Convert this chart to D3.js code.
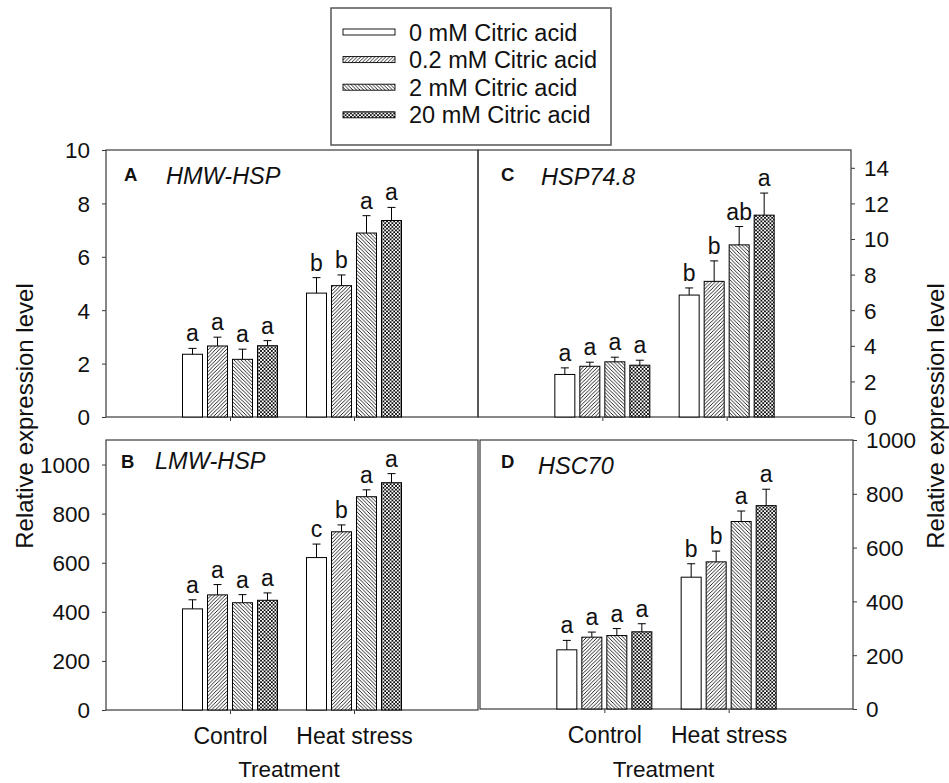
<!DOCTYPE html>
<html>
<head>
<meta charset="utf-8">
<script src="https://cdn.jsdelivr.net/npm/d3@7"></script>
<style>
  html, body { margin: 0; padding: 0; background: #fff; }
  svg { display: block; font-family: "Liberation Sans", Arial, sans-serif; }
</style>
</head>
<body>
<svg id="chart" width="949" height="783"></svg>
<script>
// ---------- data ----------
const categories = ["Control", "Heat stress"];
const seriesNames = ["0 mM Citric acid", "0.2 mM Citric acid", "2 mM Citric acid", "20 mM Citric acid"];

// Panel A: HMW-HSP
const meanA = [[2.35, 2.66, 2.16, 2.67], [4.64, 4.92, 6.89, 7.36]];
const errA  = [[0.22, 0.33, 0.38, 0.19], [0.58, 0.40, 0.65, 0.49]];
const letA  = [["a", "a", "a", "a"], ["b", "b", "a", "a"]];
const ticksA = [0, 2, 4, 6, 8, 10];

// Panel B: LMW-HSP
const meanB = [[412, 469, 437, 447], [621, 726, 869, 926]];
const errB  = [[37, 42, 33, 30], [55, 28, 28, 37]];
const letB  = [["a", "a", "a", "a"], ["c", "b", "a", "a"]];
const ticksB = [0, 200, 400, 600, 800, 1000];

// Panel C: HSP74.8
const meanC = [[2.39, 2.85, 3.10, 2.91], [6.85, 7.62, 9.67, 11.34]];
const errC  = [[0.37, 0.23, 0.26, 0.28], [0.40, 1.15, 1.03, 1.24]];
const letC  = [["a", "a", "a", "a"], ["b", "b", "ab", "a"]];
const ticksC = [0, 2, 4, 6, 8, 10, 12, 14];

// Panel D: HSC70
const meanD = [[220, 267, 273, 287], [490, 547, 697, 756]];
const errD  = [[35, 19, 26, 30], [50, 40, 39, 61]];
const letD  = [["a", "a", "a", "a"], ["b", "b", "a", "a"]];
const ticksD = [0, 200, 400, 600, 800, 1000];

const xTitle = "Treatment";
const yTitle = "Relative expression level";

// ---------- layout ----------
const panels = [
  { tag: "A", gene: "HMW-HSP", mean: meanA, err: errA, let: letA, ticks: ticksA, ymax: 10,
    x0: 106, x1: 478, y0: 150, y1: 417, side: "left", tagDx: 18, geneDx: 60, tagY: 181, geneY: 184, xlabels: false },
  { tag: "B", gene: "LMW-HSP", mean: meanB, err: errB, let: letB, ticks: ticksB, ymax: 1100,
    x0: 106, x1: 478, y0: 440, y1: 710, side: "left", tagDx: 15, geneDx: 49, tagY: 468, geneY: 469, xlabels: true },
  { tag: "C", gene: "HSP74.8", mean: meanC, err: errC, let: letC, ticks: ticksC, ymax: 15,
    x0: 478, x1: 851, y0: 150, y1: 417, side: "right", tagDx: 23, geneDx: 63, tagY: 181, geneY: 185, xlabels: false },
  { tag: "D", gene: "HSC70", mean: meanD, err: errD, let: letD, ticks: ticksD, ymax: 1000,
    x0: 480, x1: 853, y0: 440, y1: 709, side: "right", tagDx: 21, geneDx: 58, tagY: 468, geneY: 474, xlabels: true }
];

const svg = d3.select("#chart");
const frameColor = "#3a3a3a";
const FONT = "Liberation Sans, Arial, sans-serif";

// ---------- patterns ----------
const defs = svg.append("defs");
const P = 3.6;
function pat(id, paths) {
  const p = defs.append("pattern").attr("id", id).attr("patternUnits", "userSpaceOnUse")
    .attr("width", P).attr("height", P);
  p.append("rect").attr("width", P).attr("height", P).attr("fill", "#fff");
  paths.forEach(d => p.append("path").attr("d", d).attr("stroke", "#000").attr("stroke-width", 0.85).attr("fill", "none"));
}
const fwd = `M0,${P} L${P},0 M${-P/2},${P/2} L${P/2},${-P/2} M${P/2},${P*1.5} L${P*1.5},${P/2}`;
const bwd = `M0,0 L${P},${P} M${-P/2},${P/2} L${P/2},${P*1.5} M${P/2},${-P/2} L${P*1.5},${P/2}`;
pat("p1", [fwd]);
pat("p2", [bwd]);
pat("p3", [fwd, bwd]);
const fills = ["#fff", "url(#p1)", "url(#p2)", "url(#p3)"];

const sub = d3.scaleBand().domain(seriesNames.map((d, i) => i)).range([-47.5, 47.5]).paddingInner(0.2);

panels.forEach(cfg => {
  const g = svg.append("g");
  const x = d3.scalePoint().domain(categories).range([cfg.x0, cfg.x1]).padding(1);
  const y = d3.scaleLinear().domain([0, cfg.ymax]).range([cfg.y1, cfg.y0]);

  // frame
  g.append("rect").attr("x", cfg.x0).attr("y", cfg.y0)
    .attr("width", cfg.x1 - cfg.x0).attr("height", cfg.y1 - cfg.y0)
    .attr("fill", "none").attr("stroke", frameColor).attr("stroke-width", 1.2);

  // y axis
  const yAxis = (cfg.side === "left" ? d3.axisLeft(y) : d3.axisRight(y))
    .tickValues(cfg.ticks).tickFormat(d3.format("d")).tickSize(4).tickPadding(cfg.side === "left" ? 12 : 9);
  const ya = g.append("g").attr("transform", `translate(${cfg.side === "left" ? cfg.x0 : cfg.x1},0)`).call(yAxis);
  ya.select(".domain").remove();
  ya.selectAll("line").attr("stroke", frameColor);
  ya.selectAll("text").attr("font-size", 22.5).attr("fill", "#111")
    .attr("font-family", FONT).attr("dy", "0.35em");

  // x axis
  const xAxis = d3.axisBottom(x).tickSize(4).tickPadding(14).tickFormat(d => cfg.xlabels ? d : "");
  const xa = g.append("g").attr("transform", `translate(0,${cfg.y1})`).call(xAxis);
  xa.select(".domain").remove();
  xa.selectAll("line").attr("stroke", frameColor);
  xa.selectAll("text").attr("font-size", 23).attr("fill", "#111").attr("font-family", FONT);

  if (cfg.xlabels) {
    g.append("text").attr("x", (cfg.x0 + cfg.x1) / 2 - 3).attr("y", 777)
      .attr("text-anchor", "middle").attr("font-size", 22.5).attr("fill", "#111").text(xTitle);
  }

  // bars
  categories.forEach((c, ci) => {
    seriesNames.forEach((s, si) => {
      const v = cfg.mean[ci][si], e = cfg.err[ci][si];
      const bx = x(c) + sub(si);
      const cx = bx + sub.bandwidth() / 2;
      g.append("rect").attr("x", bx).attr("y", y(v)).attr("width", sub.bandwidth())
        .attr("height", y(0) - y(v)).attr("fill", fills[si]).attr("stroke", "#000").attr("stroke-width", 1);
      g.append("line").attr("x1", cx).attr("x2", cx).attr("y1", y(v)).attr("y2", y(v + e))
        .attr("stroke", "#000").attr("stroke-width", 1);
      g.append("line").attr("x1", cx - 4).attr("x2", cx + 4).attr("y1", y(v + e)).attr("y2", y(v + e))
        .attr("stroke", "#000").attr("stroke-width", 1);
      g.append("text").attr("x", cx).attr("y", y(v + e) - 7).attr("text-anchor", "middle")
        .attr("font-size", 23).attr("fill", "#111").text(cfg.let[ci][si]);
    });
  });

  // panel tag + gene
  g.append("text").attr("x", cfg.x0 + cfg.tagDx).attr("y", cfg.tagY).attr("font-size", 18.5)
    .attr("font-weight", "bold").attr("fill", "#111").text(cfg.tag);
  g.append("text").attr("x", cfg.x0 + cfg.geneDx).attr("y", cfg.geneY).attr("font-size", 23.5)
    .attr("font-style", "italic").attr("fill", "#111").text(cfg.gene);
});

// y titles
svg.append("text").attr("transform", "translate(33,416) rotate(-90)").attr("text-anchor", "middle")
  .attr("font-size", 24).attr("fill", "#111").text(yTitle);
svg.append("text").attr("transform", "translate(944,416) rotate(-90)").attr("text-anchor", "middle")
  .attr("font-size", 24).attr("fill", "#111").text(yTitle);

// legend
const leg = svg.append("g");
leg.append("rect").attr("x", 331).attr("y", 8).attr("width", 280).attr("height", 137)
  .attr("fill", "#fff").attr("stroke", "#555").attr("stroke-width", 1.5);
seriesNames.forEach((s, i) => {
  const cy = 32 + i * 27.6;
  leg.append("rect").attr("x", 343).attr("y", cy - 3).attr("width", 52).attr("height", 6)
    .attr("fill", fills[i]).attr("stroke", "#000").attr("stroke-width", 0.9);
  leg.append("text").attr("x", 409).attr("y", cy + 8.5).attr("font-size", 23.5).attr("fill", "#111").text(s);
});
</script>
</body>
</html>
